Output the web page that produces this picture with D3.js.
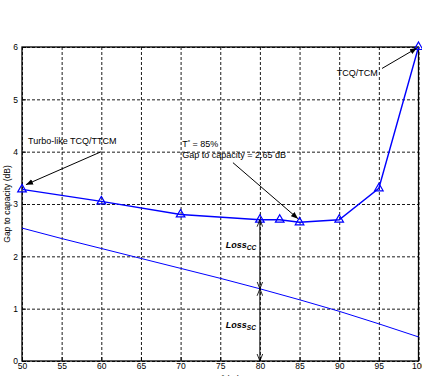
<!DOCTYPE html>
<html>
<head>
<meta charset="utf-8">
<script src="https://cdn.jsdelivr.net/npm/d3@7/dist/d3.min.js"></script>
<style>
  html, body { margin: 0; padding: 0; background: #fff; overflow: hidden; }
  svg { display: block; font-family: "Liberation Sans", Arial, sans-serif; }
</style>
</head>
<body>
<div id="chart"></div>
<script>
// T* (%) on x, gap to capacity (dB) on y
const tcqT = [50, 60, 70, 80, 82.5, 85, 90, 95, 100];
const tcqGap = [3.28, 3.05, 2.8, 2.7, 2.7, 2.65, 2.7, 3.3, 6.0];

const scT = [50, 55, 60, 65, 70, 75, 80, 85, 90, 95, 100];
const scGap = [2.54, 2.34, 2.15, 1.96, 1.77, 1.58, 1.38, 1.17, 0.95, 0.71, 0.46];

const xTicks = [50, 55, 60, 65, 70, 75, 80, 85, 90, 95, 100];
const yTicks = [0, 1, 2, 3, 4, 5, 6];

const width = 422;
const height = 376;
const margin = { top: 47, right: 3.5, bottom: 15, left: 22 };
const innerW = width - margin.left - margin.right;
const innerH = height - margin.top - margin.bottom;

const svg = d3.select('#chart').append('svg')
  .attr('width', width)
  .attr('height', height);

const defs = svg.append('defs');
defs.append('marker')
  .attr('id', 'head')
  .attr('viewBox', '0 0 10 10')
  .attr('refX', 10).attr('refY', 5)
  .attr('markerWidth', 7).attr('markerHeight', 7)
  .attr('markerUnits', 'userSpaceOnUse')
  .attr('orient', 'auto-start-reverse')
  .append('path')
  .attr('d', 'M0,1 L10,5 L0,9 Z')
  .attr('fill', '#000');
defs.append('marker')
  .attr('id', 'vhead')
  .attr('viewBox', '0 0 10 10')
  .attr('refX', 10).attr('refY', 5)
  .attr('markerWidth', 7).attr('markerHeight', 7)
  .attr('markerUnits', 'userSpaceOnUse')
  .attr('orient', 'auto-start-reverse')
  .append('path')
  .attr('d', 'M0,1 L10,5 L0,9')
  .attr('fill', 'none')
  .attr('stroke', '#000')
  .attr('stroke-width', 1.2);

const g = svg.append('g')
  .attr('transform', `translate(${margin.left},${margin.top})`);

const x = d3.scaleLinear().domain([50, 100]).range([0, innerW]);
const y = d3.scaleLinear().domain([0, 6]).range([innerH, 0]);

// Grid lines
g.append('g')
  .call(d3.axisBottom(x).tickValues(xTicks).tickSize(innerH).tickFormat(''))
  .call(s => s.select('.domain').remove())
  .selectAll('line').attr('stroke', '#000').attr('stroke-dasharray', '3,2').attr('stroke-width', 0.9);
g.append('g')
  .call(d3.axisRight(y).tickValues(yTicks).tickSize(innerW).tickFormat(''))
  .call(s => s.select('.domain').remove())
  .selectAll('line').attr('stroke', '#000').attr('stroke-dasharray', '3,2').attr('stroke-width', 0.9);

// Axes
const xAxis = g.append('g')
  .attr('transform', `translate(0,${innerH})`)
  .call(d3.axisBottom(x).tickValues(xTicks).tickSize(-4).tickPadding(2).tickFormat(d3.format('d')));
const yAxis = g.append('g')
  .call(d3.axisLeft(y).tickValues(yTicks).tickSize(-4).tickPadding(4).tickFormat(d3.format('d')));
[xAxis, yAxis].forEach(a => {
  a.selectAll('text').attr('fill', '#000').attr('font-size', '8.5px')
    .attr('font-family', '"Liberation Sans", Arial, sans-serif');
  a.select('.domain').remove();
  a.selectAll('line').attr('stroke', '#000');
});

// Box
g.append('rect')
  .attr('x', 0).attr('y', 0)
  .attr('width', innerW).attr('height', innerH)
  .attr('fill', 'none')
  .attr('stroke', '#000')
  .attr('stroke-width', 1.3);

// Lower (SC) line
const line = d3.line().x(d => x(d[0])).y(d => y(d[1]));
g.append('path')
  .datum(scT.map((t, i) => [t, scGap[i]]))
  .attr('fill', 'none')
  .attr('stroke', '#0000ff')
  .attr('stroke-width', 1)
  .attr('d', line);

// TCQ/TTCM curve
const tcqData = tcqT.map((t, i) => [t, tcqGap[i]]);
g.append('path')
  .datum(tcqData)
  .attr('fill', 'none')
  .attr('stroke', '#0000ff')
  .attr('stroke-width', 1.4)
  .attr('d', line);

const tri = d3.symbol().type(d3.symbolTriangle).size(32);
g.selectAll('.tri')
  .data(tcqData)
  .join('path')
  .attr('class', 'tri')
  .attr('transform', d => `translate(${x(d[0])},${y(d[1])})`)
  .attr('d', tri)
  .attr('fill', 'none')
  .attr('stroke', '#0000ff')
  .attr('stroke-width', 1.2);

// Annotations
function arrow(x1, y1, x2, y2, both, marker) {
  const p = g.append('line')
    .attr('x1', x(x1)).attr('y1', y(y1))
    .attr('x2', x(x2)).attr('y2', y(y2))
    .attr('stroke', '#000').attr('stroke-width', 1)
    .attr('marker-end', `url(#${marker})`);
  if (both) p.attr('marker-start', `url(#${marker})`);
}
function label(tx, ty, txt) {
  return g.append('text')
    .attr('x', x(tx)).attr('y', y(ty))
    .attr('font-size', '9px')
    .attr('fill', '#000')
    .text(txt);
}

label(50.76, 4.14, 'Turbo-like TCQ/TTCM');
arrow(60, 4, 50.5, 3.37, false, 'head');

label(89.7, 5.45, 'TCQ/TCM');
arrow(95.4, 5.59, 99.8, 5.98, false, 'head');

const tl = label(70.2, 4.08, 'T');
tl.append('tspan').attr('baseline-shift', 'super').attr('font-size', '6px').text('*');
tl.append('tspan').text(' = 85%');
label(70.2, 3.87, 'Gap to capacity = 2.65 dB');
arrow(76.6, 3.79, 84.8, 2.72, false, 'head');

// Loss arrows at T* = 80
const i80 = tcqT.indexOf(80);
const j80 = scT.indexOf(80);
arrow(80, tcqGap[i80], 80, scGap[j80], true, 'vhead');
arrow(80, scGap[j80], 80, 0, true, 'vhead');

function lossLabel(ty, sub) {
  const t = g.append('text')
    .attr('x', x(75.7)).attr('y', y(ty))
    .attr('font-size', '9px')
    .attr('font-weight', 'bold')
    .attr('font-style', 'italic')
    .attr('fill', '#000')
    .text('Loss');
  t.append('tspan').attr('dy', '2').attr('font-size', '6.5px').text(sub);
}
lossLabel(2.16, 'CC');
lossLabel(0.63, 'SC');

// Axis titles
svg.append('text')
  .attr('transform', `translate(10,${margin.top + y(3)}) rotate(-90)`)
  .attr('text-anchor', 'middle')
  .attr('font-size', '8.5px')
  .attr('fill', '#000')
  .text('Gap to capacity (dB)');

const xt = svg.append('text')
  .attr('x', margin.left + x(76))
  .attr('y', 382)
  .attr('text-anchor', 'middle')
  .attr('font-size', '8.5px')
  .attr('fill', '#000')
  .text('T');
xt.append('tspan').attr('baseline-shift', 'super').attr('font-size', '6px').text('*');
xt.append('tspan').text(' (%)');
</script>
</body>
</html>
